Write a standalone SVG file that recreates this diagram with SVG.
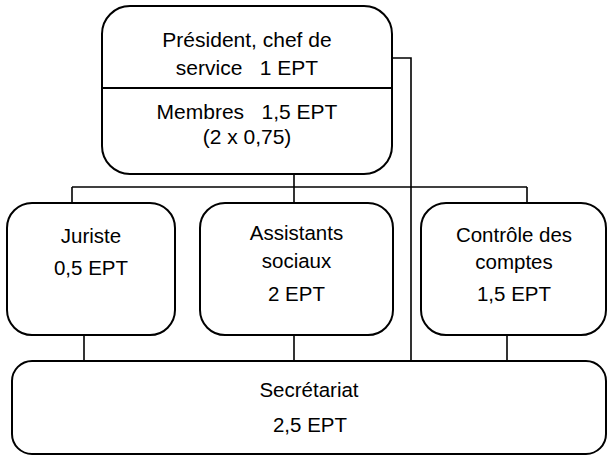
<svg xmlns="http://www.w3.org/2000/svg" width="608" height="456" viewBox="0 0 608 456">
<style>
.box{fill:#fff;stroke:#000;stroke-width:2}
.conn{fill:none;stroke:#000;stroke-width:1.6}
text{font-family:"Liberation Sans",Arial,sans-serif;font-size:20.5px;fill:#000;text-anchor:middle;white-space:pre}
.big{font-size:21px}
</style>
<rect width="608" height="456" fill="#fff"/>
<g id="connectors">
<polyline class="conn" points="392,58 411,58 411,361"/>
<line class="conn" x1="294" y1="174" x2="294" y2="187"/>
<line class="conn" x1="72" y1="187" x2="527" y2="187"/>
<line class="conn" x1="72" y1="187" x2="72" y2="203"/>
<line class="conn" x1="294" y1="187" x2="294" y2="203"/>
<line class="conn" x1="527" y1="187" x2="527" y2="203"/>
<line class="conn" x1="84" y1="335" x2="84" y2="361"/>
<line class="conn" x1="294" y1="335" x2="294" y2="361"/>
<line class="conn" x1="507" y1="335" x2="507" y2="361"/>
</g>
<g id="president">
<rect class="box" x="102" y="6" width="290" height="168" rx="28" ry="28"/>
<line x1="102" y1="88" x2="392" y2="88" stroke="#000" stroke-width="2"/>
<text class="big" x="247" y="47">Président, chef de</text>
<text class="big" x="247" y="75">service   1 EPT</text>
<text class="big" x="247" y="119">Membres   1,5 EPT</text>
<text class="big" x="247" y="144">(2 x 0,75)</text>
</g>
<g id="juriste">
<rect class="box" x="7" y="203" width="168" height="132" rx="25" ry="25"/>
<text x="91" y="243">Juriste</text>
<text x="91" y="275">0,5 EPT</text>
</g>
<g id="assistants">
<rect class="box" x="200" y="203" width="193" height="132" rx="25" ry="25"/>
<text x="296.5" y="240">Assistants</text>
<text x="296.5" y="268">sociaux</text>
<text x="296.5" y="301">2 EPT</text>
</g>
<g id="controle">
<rect class="box" x="421" y="203" width="185" height="132" rx="25" ry="25"/>
<text x="514" y="242">Contrôle des</text>
<text x="514" y="269">comptes</text>
<text x="514" y="301">1,5 EPT</text>
</g>
<g id="secretariat">
<rect class="box" x="12" y="361" width="594" height="93" rx="20" ry="20"/>
<text x="309" y="397">Secrétariat</text>
<text x="310" y="432">2,5 EPT</text>
</g>
</svg>
